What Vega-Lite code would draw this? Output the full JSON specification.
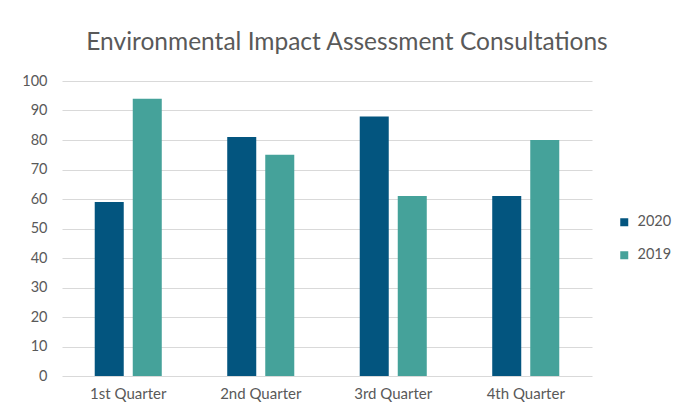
{
  "$schema": "https://vega.github.io/schema/vega-lite/v6.json",
  "autosize": "none",
  "width": 530,
  "height": 295,
  "padding": {"left": 62, "top": 81, "right": 83, "bottom": 33},
  "background": "white",
  "title": {
    "text": "Environmental Impact Assessment Consultations",
    "font": "Lato",
    "fontSize": 24.5,
    "fontWeight": "normal",
    "color": "#595959",
    "anchor": "middle",
    "offset": 18,
    "dx": 20
  },
  "data": {
    "values": [
      {"quarter": "1st Quarter", "year": "2020", "value": 59},
      {"quarter": "1st Quarter", "year": "2019", "value": 94},
      {"quarter": "2nd Quarter", "year": "2020", "value": 81},
      {"quarter": "2nd Quarter", "year": "2019", "value": 75},
      {"quarter": "3rd Quarter", "year": "2020", "value": 88},
      {"quarter": "3rd Quarter", "year": "2019", "value": 61},
      {"quarter": "4th Quarter", "year": "2020", "value": 61},
      {"quarter": "4th Quarter", "year": "2019", "value": 80}
    ]
  },
  "mark": {"type": "bar"},
  "encoding": {
    "x": {
      "field": "quarter",
      "type": "nominal",
      "sort": ["1st Quarter", "2nd Quarter", "3rd Quarter", "4th Quarter"],
      "scale": {"paddingInner": 0.494, "paddingOuter": 0.247},
      "axis": {
        "title": null,
        "labelAngle": 0,
        "ticks": false,
        "domain": false,
        "labelFont": "Lato",
        "labelFontSize": 15,
        "labelColor": "#595959",
        "labelPadding": 10
      }
    },
    "xOffset": {
      "field": "year",
      "type": "nominal",
      "sort": ["2020", "2019"],
      "scale": {"paddingInner": 0.237, "paddingOuter": 0}
    },
    "y": {
      "field": "value",
      "type": "quantitative",
      "scale": {"domain": [0, 100]},
      "axis": {
        "title": null,
        "values": [0, 10, 20, 30, 40, 50, 60, 70, 80, 90, 100],
        "ticks": false,
        "domain": false,
        "grid": true,
        "gridColor": "#d9d9d9",
        "gridWidth": 1,
        "labelFont": "Lato",
        "labelFontSize": 14.5,
        "labelColor": "#595959",
        "labelPadding": 15
      }
    },
    "color": {
      "field": "year",
      "type": "nominal",
      "sort": ["2020", "2019"],
      "scale": {"domain": ["2020", "2019"], "range": ["#03557f", "#45a29a"]},
      "legend": {
        "title": null,
        "orient": "none",
        "legendX": 555,
        "legendY": 134,
        "symbolType": "square",
        "symbolSize": 64,
        "symbolStrokeWidth": 0,
        "labelFont": "Lato",
        "labelFontSize": 14.5,
        "labelColor": "#595959",
        "labelOffset": 6,
        "rowPadding": 18
      }
    }
  },
  "config": {
    "view": {"stroke": null}
  }
}
